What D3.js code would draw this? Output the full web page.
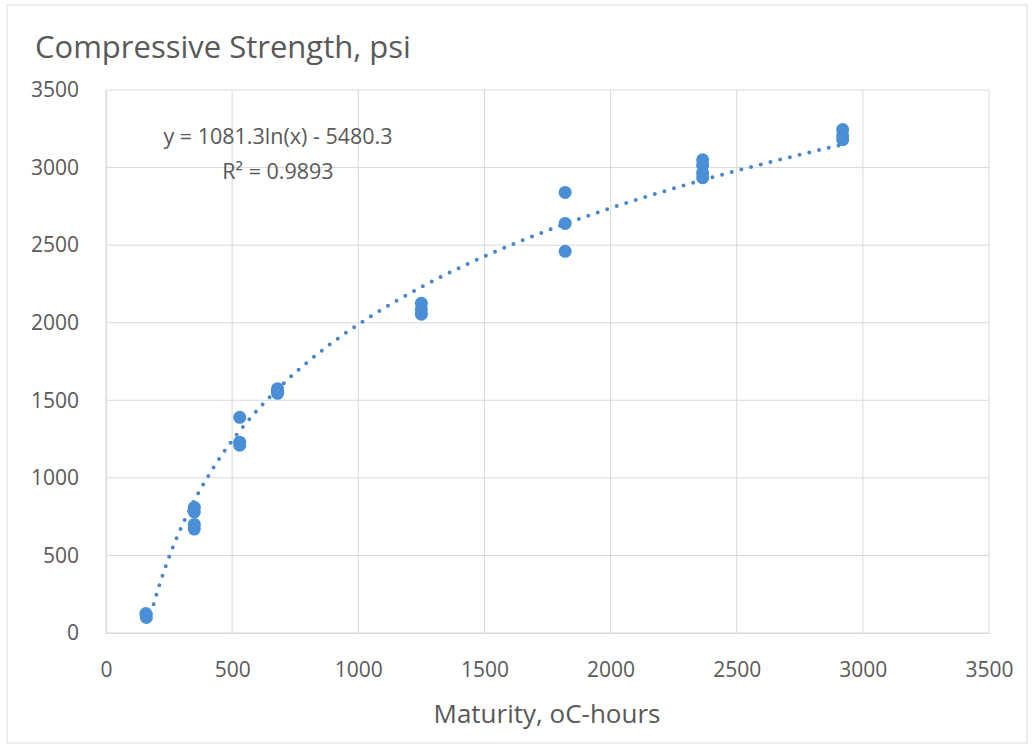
<!DOCTYPE html>
<html>
<head>
<meta charset="utf-8">
<script src="https://cdn.jsdelivr.net/npm/d3@7"></script>
<style>
  body { margin: 0; background: #fff; }
  text { font-family: "Open Sans", sans-serif; fill: #595959; }
</style>
</head>
<body>
<svg id="chart" width="1034" height="747"></svg>
<script>
// maturity (oC-hours) and compressive strength (psi)
const maturity = [158, 160, 350, 350, 350, 350, 530, 530, 530, 680, 680, 680,
                  1250, 1250, 1250, 1820, 1820, 1820, 2365, 2365, 2365, 2365, 2920, 2920, 2920];
const strength = [125, 100, 810, 780, 700, 670, 1390, 1230, 1210, 1575, 1545, 1560,
                  2125, 2085, 2055, 2840, 2640, 2460, 3050, 3015, 2935, 2965, 3245, 3205, 3180];

const xTicks = [0, 500, 1000, 1500, 2000, 2500, 3000, 3500];
const yTicks = [0, 500, 1000, 1500, 2000, 2500, 3000, 3500];

// trendline from the picture: y = 1081.3 ln(x) - 5480.3
const fitA = 1081.3;
const fitB = -5480.3;
const fitStart = 178; // visible start of the dotted line

const margin = { top: 90, right: 45, bottom: 114, left: 106 };
const width = 1034;
const height = 747;

const svg = d3.select('#chart');

// outer frame
svg.append('rect')
  .attr('x', 7).attr('y', 5)
  .attr('width', 1020).attr('height', 738)
  .attr('fill', 'none')
  .attr('stroke', '#d9d9d9');

const x = d3.scaleLinear()
  .domain([0, 3500])
  .range([margin.left, width - margin.right]);

const y = d3.scaleLinear()
  .domain([0, 3500])
  .range([height - margin.bottom, margin.top]);

// grid
svg.append('g')
  .selectAll('line')
  .data(xTicks)
  .enter()
  .append('line')
  .attr('x1', d => x(d)).attr('x2', d => x(d))
  .attr('y1', y(0)).attr('y2', y(3500))
  .attr('stroke', '#d9d9d9');

svg.append('g')
  .selectAll('line')
  .data(yTicks)
  .enter()
  .append('line')
  .attr('x1', x(0)).attr('x2', x(3500))
  .attr('y1', d => y(d)).attr('y2', d => y(d))
  .attr('stroke', '#d9d9d9');

// axes (labels only, no tick marks)
const xAxis = svg.append('g')
  .attr('transform', `translate(0, ${y(0)})`)
  .call(d3.axisBottom(x).tickValues(xTicks).tickFormat(d3.format('d')).tickSize(0).tickPadding(29));
xAxis.select('.domain').attr('stroke', '#d9d9d9');
xAxis.selectAll('text').style('font-size', '21px').attr('fill', '#595959');

const yAxis = svg.append('g')
  .attr('transform', `translate(${x(0)}, 0)`)
  .call(d3.axisLeft(y).tickValues(yTicks).tickFormat(d3.format('d')).tickSize(0).tickPadding(27));
yAxis.select('.domain').attr('stroke', '#d9d9d9');
yAxis.selectAll('text').style('font-size', '21px').attr('fill', '#595959');

// trendline, dotted
const xMax = d3.max(maturity);
const fitPts = d3.range(0, 201).map(i => {
  const m = fitStart + (xMax - fitStart) * i / 200;
  return [m, fitA * Math.log(m) + fitB];
});

svg.append('path')
  .datum(fitPts)
  .attr('fill', 'none')
  .attr('stroke', '#4a86c8')
  .attr('stroke-width', 4)
  .attr('stroke-linecap', 'round')
  .attr('stroke-dasharray', '0 10')
  .attr('d', d3.line().x(d => x(d[0])).y(d => y(d[1])));

// points
svg.append('g')
  .selectAll('circle')
  .data(maturity)
  .enter()
  .append('circle')
  .attr('cx', d => x(d))
  .attr('cy', (d, i) => y(strength[i]))
  .attr('r', 6.5)
  .attr('fill', '#4a8fd6');

// title
svg.append('text')
  .attr('x', 35)
  .attr('y', 58)
  .style('font-size', '31px')
  .text('Compressive Strength, psi');

// equation label
svg.append('text')
  .attr('x', 278)
  .attr('y', 144)
  .attr('text-anchor', 'middle')
  .style('font-size', '21.5px')
  .text('y = 1081.3ln(x) - 5480.3');

svg.append('text')
  .attr('x', 278)
  .attr('y', 179)
  .attr('text-anchor', 'middle')
  .style('font-size', '21.5px')
  .text('R² = 0.9893');

// x axis title
svg.append('text')
  .attr('x', 547)
  .attr('y', 723)
  .attr('text-anchor', 'middle')
  .style('font-size', '26px')
  .text('Maturity, oC-hours');
</script>
</body>
</html>
